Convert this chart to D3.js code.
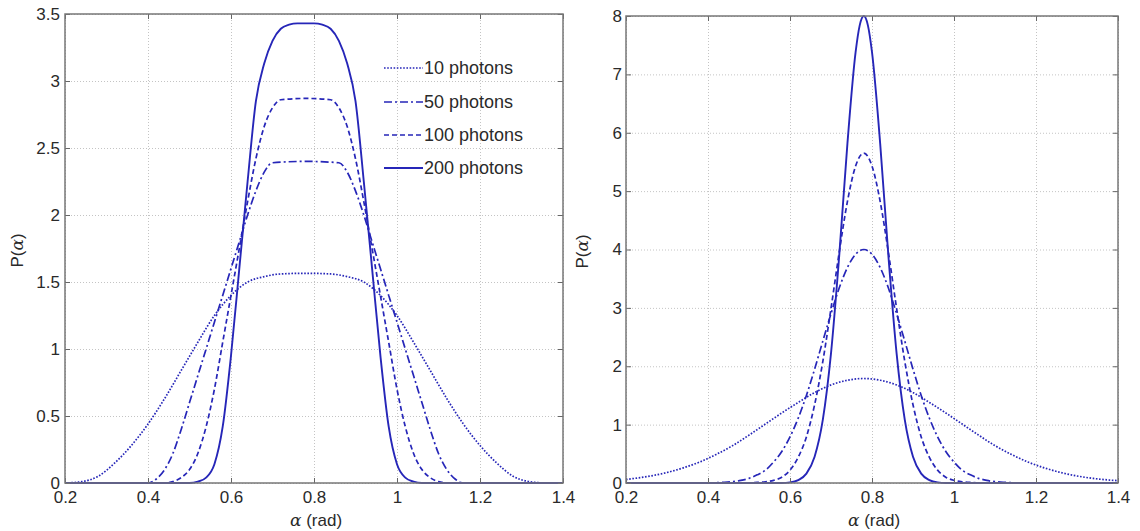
<!DOCTYPE html>
<html>
<head>
<meta charset="utf-8">
<script src="https://cdn.jsdelivr.net/npm/d3@7"></script>
<style>
  body { margin: 0; background: #fff; }
  text { font-family: "Liberation Sans", Arial, sans-serif; fill: #2a2a2a; }
</style>
</head>
<body>
<script>
// tick values shared by both panels
var xTicks = [0.2, 0.4, 0.6, 0.8, 1, 1.2, 1.4];
var leftYTicks = [0, 0.5, 1, 1.5, 2, 2.5, 3, 3.5];
var rightYTicks = [0, 1, 2, 3, 4, 5, 6, 7, 8];
var legendLabels = ["10 photons", "50 photons", "100 photons", "200 photons"];

// left panel, [alpha, P]
var left10 = [[0.2,0],[0.24,0.01],[0.28,0.05],[0.32,0.15],[0.36,0.28],[0.4,0.44],[0.44,0.63],[0.48,0.84],
  [0.52,1.05],[0.56,1.25],[0.6,1.4],[0.64,1.5],[0.68,1.54],[0.72,1.56],[0.78,1.565],[0.84,1.56],[0.88,1.54],
  [0.92,1.5],[0.96,1.4],[1,1.25],[1.04,1.05],[1.08,0.84],[1.12,0.63],[1.16,0.44],[1.2,0.28],[1.24,0.15],
  [1.28,0.05],[1.32,0.01],[1.36,0],[1.4,0]];
var left50 = [[0.2,0],[0.4,0],[0.42,0.03],[0.44,0.1],[0.46,0.22],[0.48,0.4],[0.5,0.6],[0.52,0.8],[0.54,1.0],
  [0.56,1.2],[0.58,1.4],[0.6,1.6],[0.62,1.8],[0.64,2.0],[0.66,2.18],[0.68,2.32],[0.7,2.39],[0.78,2.4],
  [0.86,2.39],[0.88,2.32],[0.9,2.18],[0.92,2.0],[0.94,1.8],[0.96,1.6],[0.98,1.4],[1,1.2],[1.02,1.0],
  [1.04,0.8],[1.06,0.6],[1.08,0.4],[1.1,0.22],[1.12,0.1],[1.14,0.03],[1.16,0],[1.4,0]];
var left100 = [[0.2,0],[0.44,0],[0.46,0.01],[0.48,0.04],[0.5,0.1],[0.52,0.22],[0.54,0.42],[0.56,0.7],
  [0.58,1.05],[0.6,1.4],[0.62,1.75],[0.64,2.1],[0.66,2.42],[0.68,2.66],[0.7,2.8],[0.72,2.86],[0.78,2.87],
  [0.84,2.86],[0.86,2.8],[0.88,2.66],[0.9,2.42],[0.92,2.1],[0.94,1.75],[0.96,1.4],[0.98,1.05],[1,0.7],
  [1.02,0.42],[1.04,0.22],[1.06,0.1],[1.08,0.04],[1.1,0.01],[1.12,0],[1.4,0]];
var left200 = [[0.2,0],[0.5,0],[0.52,0.01],[0.54,0.04],[0.56,0.14],[0.58,0.42],[0.6,0.95],[0.62,1.6],
  [0.64,2.25],[0.66,2.85],[0.68,3.13],[0.7,3.3],[0.72,3.39],[0.74,3.42],[0.76,3.43],[0.8,3.43],[0.82,3.42],
  [0.84,3.39],[0.86,3.3],[0.88,3.13],[0.9,2.85],[0.92,2.25],[0.94,1.6],[0.96,0.95],[0.98,0.42],[1,0.14],
  [1.02,0.04],[1.04,0.01],[1.06,0],[1.4,0]];

// right panel
var right10 = [[0.2,0.06],[0.22,0.078],[0.26,0.12],[0.3,0.18],[0.34,0.26],[0.38,0.36],[0.42,0.49],[0.46,0.64],
  [0.5,0.82],[0.54,1.01],[0.58,1.2],[0.62,1.38],[0.66,1.55],[0.7,1.68],[0.74,1.76],[0.78,1.79],[0.82,1.76],
  [0.86,1.68],[0.9,1.55],[0.94,1.38],[0.98,1.2],[1.02,1.01],[1.06,0.82],[1.1,0.64],[1.14,0.49],[1.18,0.36],
  [1.22,0.26],[1.26,0.18],[1.3,0.12],[1.34,0.078],[1.38,0.05],[1.4,0.04]];
var right50 = [[0.2,0],[0.38,0],[0.44,0.012],[0.48,0.044],[0.5,0.08],[0.52,0.14],[0.54,0.22],[0.56,0.36],
  [0.58,0.54],[0.6,0.79],[0.62,1.11],[0.64,1.5],[0.66,1.95],[0.68,2.43],[0.7,2.9],[0.72,3.34],[0.74,3.69],
  [0.76,3.92],[0.78,4.0],[0.8,3.92],[0.82,3.69],[0.84,3.34],[0.86,2.9],[0.88,2.43],[0.9,1.95],[0.92,1.5],
  [0.94,1.11],[0.96,0.79],[0.98,0.54],[1,0.36],[1.02,0.22],[1.04,0.14],[1.06,0.08],[1.08,0.044],
  [1.12,0.012],[1.18,0],[1.4,0]];
var right100 = [[0.2,0],[0.5,0],[0.52,0.01],[0.54,0.02],[0.56,0.045],[0.58,0.1],[0.6,0.22],[0.62,0.44],
  [0.64,0.79],[0.66,1.34],[0.68,2.08],[0.7,2.99],[0.72,3.95],[0.74,4.82],[0.76,5.43],[0.78,5.65],[0.8,5.43],
  [0.82,4.82],[0.84,3.95],[0.86,2.99],[0.88,2.08],[0.9,1.34],[0.92,0.79],[0.94,0.44],[0.96,0.22],[0.98,0.1],
  [1,0.045],[1.02,0.02],[1.04,0.01],[1.06,0],[1.4,0]];
var right200 = [[0.2,0],[0.58,0],[0.6,0.01],[0.62,0.05],[0.64,0.16],[0.66,0.45],[0.68,1.08],[0.7,2.22],
  [0.72,3.89],[0.74,5.81],[0.76,7.38],[0.77,7.84],[0.78,8.0],[0.79,7.84],[0.8,7.38],[0.82,5.81],[0.84,3.89],
  [0.86,2.22],[0.88,1.08],[0.9,0.45],[0.92,0.16],[0.94,0.05],[0.96,0.01],[0.98,0],[1.4,0]];

var lineColor = "#2626b8";
var dashes = ["1.6,1.6", "8,3,2,3", "5,3", null];
var widths = [1.7, 1.7, 1.7, 1.9];

window.onload = start;

function start() {
    var width = 1140;
    var height = 531;

    var svg = d3.select("body").append("svg")
        .attr("width", width)
        .attr("height", height);

    drawPanel(svg, {left: 65, top: 14, right: 563, bottom: 483, yMax: 3.5, yTicks: leftYTicks,
        series: [left10, left50, left100, left200], pad: 5, labelX: 17});
    drawPanel(svg, {left: 626, top: 16, right: 1118, bottom: 483, yMax: 8, yTicks: rightYTicks,
        series: [right10, right50, right100, right200], pad: 4, labelX: 582});

    // legend, left panel
    var legend = svg.append("g");
    var legendY = [68, 102, 135, 168];
    legendLabels.forEach(function(label, i) {
        var l = legend.append("line")
            .attr("x1", 384).attr("x2", 423)
            .attr("y1", legendY[i]).attr("y2", legendY[i])
            .attr("stroke", lineColor)
            .attr("stroke-width", widths[i]);
        if (dashes[i]) l.attr("stroke-dasharray", dashes[i]);
        legend.append("text")
            .attr("x", 424).attr("y", legendY[i])
            .attr("dy", "0.35em")
            .style("font-size", "18px")
            .text(label);
    });
}

function drawPanel(svg, p) {
    var w = p.right - p.left;
    var h = p.bottom - p.top;
    var x = d3.scaleLinear().domain([0.2, 1.4]).range([0, w]);
    var y = d3.scaleLinear().domain([0, p.yMax]).range([h, 0]);

    var g = svg.append("g").attr("transform", "translate(" + p.left + "," + p.top + ")");

    // dotted grid
    var gx = g.append("g").attr("transform", "translate(0," + h + ")")
        .call(d3.axisBottom(x).tickValues(xTicks).tickSize(-h).tickFormat(""));
    var gy = g.append("g")
        .call(d3.axisLeft(y).tickValues(p.yTicks).tickSize(-w).tickFormat(""));
    [gx, gy].forEach(function(a) {
        a.select(".domain").remove();
        a.selectAll("line").attr("stroke", "#c4c4c4").attr("stroke-dasharray", "1,2");
    });

    // curves
    var line = d3.line()
        .x(function(d) { return x(d[0]); })
        .y(function(d) { return y(d[1]); })
        .curve(d3.curveMonotoneX);
    p.series.forEach(function(s, i) {
        var path = g.append("path")
            .datum(s)
            .attr("d", line)
            .attr("fill", "none")
            .attr("stroke", lineColor)
            .attr("stroke-width", widths[i]);
        if (dashes[i]) path.attr("stroke-dasharray", dashes[i]);
    });

    // axes with inward ticks
    var bottom = g.append("g").attr("transform", "translate(0," + h + ")")
        .call(d3.axisBottom(x).tickValues(xTicks).tickSizeInner(-5).tickSizeOuter(0).tickPadding(8)
            .tickFormat(function(d) { return String(d); }));
    var top = g.append("g")
        .call(d3.axisTop(x).tickValues(xTicks).tickSizeInner(-5).tickSizeOuter(0).tickFormat(""));
    var left = g.append("g")
        .call(d3.axisLeft(y).tickValues(p.yTicks).tickSizeInner(-5).tickSizeOuter(0).tickPadding(p.pad)
            .tickFormat(function(d) { return String(d); }));
    var right = g.append("g").attr("transform", "translate(" + w + ",0)")
        .call(d3.axisRight(y).tickValues(p.yTicks).tickSizeInner(-5).tickSizeOuter(0).tickFormat(""));
    [bottom, top, left, right].forEach(function(a) {
        a.select(".domain").remove();
        a.selectAll("line").attr("stroke", "#666");
        a.selectAll("text").style("font-size", "17px").attr("fill", "#2a2a2a")
            .style("font-family", "Liberation Sans, Arial, sans-serif");
    });

    // box
    g.append("rect")
        .attr("width", w).attr("height", h)
        .attr("fill", "none")
        .attr("stroke", "#777")
        .attr("stroke-width", 1.5);

    // axis titles
    var xt = svg.append("text")
        .attr("x", p.left + w / 2 + 2)
        .attr("y", 526)
        .attr("text-anchor", "middle")
        .style("font-size", "17px");
    xt.append("tspan").style("font-style", "italic").style("font-family", "DejaVu Serif, serif").text("α");
    xt.append("tspan").text(" (rad)");

    var yt = svg.append("text")
        .attr("transform", "translate(" + (p.labelX + 6) + "," + (p.top + h / 2 + 2) + ") rotate(-90)")
        .attr("text-anchor", "middle")
        .style("font-size", "17px");
    yt.append("tspan").text("P(");
    yt.append("tspan").style("font-style", "italic").style("font-family", "DejaVu Serif, serif").text("α");
    yt.append("tspan").text(")");
}
</script>
</body>
</html>
